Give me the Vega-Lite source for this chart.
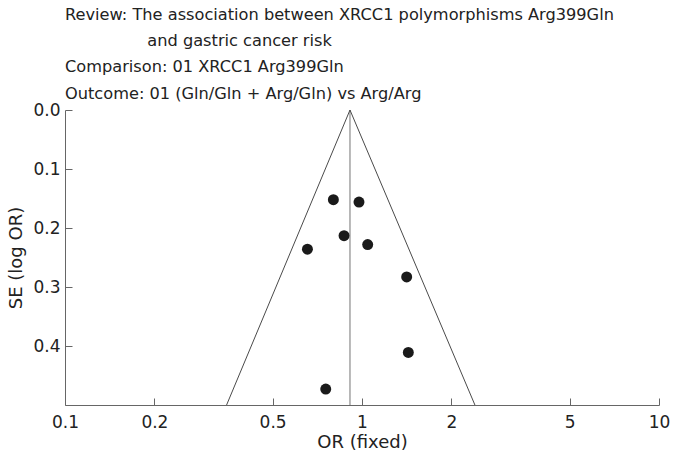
{
  "$schema": "https://vega.github.io/schema/vega-lite/v6.json",
  "width": 594,
  "height": 295,
  "autosize": {"type": "none"},
  "padding": {"left": 65, "top": 110, "right": 14, "bottom": 56},
  "background": "white",
  "config": {
    "view": {"stroke": null},
    "font": "DejaVu Sans"
  },
  "title": {
    "text": [
      "Review: The association between XRCC1 polymorphisms Arg399Gln",
      "\u200b\u00a0\u00a0\u00a0\u00a0\u00a0\u00a0\u00a0\u00a0\u00a0\u00a0\u00a0\u00a0\u00a0\u00a0\u00a0\u00a0and gastric cancer risk",
      "Comparison: 01 XRCC1 Arg399Gln",
      "Outcome: 01 (Gln/Gln + Arg/Gln) vs Arg/Arg"
    ],
    "anchor": "start",
    "frame": "group",
    "font": "DejaVu Sans",
    "fontSize": 16.2,
    "fontWeight": "normal",
    "color": "#222222",
    "lineHeight": 26.3,
    "offset": -1
  },
  "datasets": {
    "studies": [
      {"or": 0.801, "se": 0.152},
      {"or": 0.977, "se": 0.156},
      {"or": 0.870, "se": 0.213},
      {"or": 1.045, "se": 0.228},
      {"or": 0.655, "se": 0.236},
      {"or": 1.414, "se": 0.283},
      {"or": 1.432, "se": 0.411},
      {"or": 0.755, "se": 0.473}
    ],
    "funnel": [
      {"or": 0.35, "se": 0.5, "k": 1},
      {"or": 0.911, "se": 0.0, "k": 2},
      {"or": 2.40, "se": 0.5, "k": 3}
    ],
    "pooled": [
      {"or": 0.911, "se0": 0.0, "se1": 0.5}
    ]
  },
  "layer": [
    {
      "data": {"name": "pooled"},
      "mark": {"type": "rule", "color": "#8a8a8a", "strokeWidth": 1.2},
      "encoding": {
        "x": {"field": "or", "type": "quantitative", "scale": {"type": "log", "domain": [0.1, 10]}},
        "y": {"field": "se0", "type": "quantitative", "scale": {"domain": [0, 0.5], "reverse": true}},
        "y2": {"field": "se1"}
      }
    },
    {
      "data": {"name": "funnel"},
      "mark": {"type": "line", "color": "#4a4a4a", "strokeWidth": 1},
      "encoding": {
        "x": {"field": "or", "type": "quantitative"},
        "y": {"field": "se", "type": "quantitative"},
        "order": {"field": "k"}
      }
    },
    {
      "data": {"name": "studies"},
      "mark": {"type": "point", "filled": true, "color": "#1a1a1a", "opacity": 1, "size": 120},
      "encoding": {
        "x": {
          "field": "or",
          "type": "quantitative",
          "scale": {"type": "log", "domain": [0.1, 10]},
          "axis": {
            "title": "OR (fixed)",
            "values": [0.1, 0.2, 0.5, 1, 2, 5, 10],
            "format": "~g",
            "grid": false,
            "tickSize": -7,
            "labelPadding": 16,
            "labelFont": "DejaVu Sans",
            "labelFontSize": 17,
            "labelColor": "#222222",
            "titleFont": "DejaVu Sans",
            "titleFontSize": 18,
            "titleFontWeight": "normal",
            "titleColor": "#222222",
            "titlePadding": 3,
            "domainColor": "#666666",
            "tickColor": "#666666",
            "labelFlush": false
          }
        },
        "y": {
          "field": "se",
          "type": "quantitative",
          "scale": {"domain": [0, 0.5], "reverse": true},
          "axis": {
            "title": "SE (log OR)",
            "values": [0, 0.1, 0.2, 0.3, 0.4],
            "format": ".1f",
            "grid": false,
            "tickSize": -7,
            "labelPadding": 12,
            "labelFont": "DejaVu Sans",
            "labelFontSize": 17,
            "labelColor": "#222222",
            "titleFont": "DejaVu Sans",
            "titleFontSize": 18,
            "titleFontWeight": "normal",
            "titleColor": "#222222",
            "titlePadding": 7,
            "domainColor": "#666666",
            "tickColor": "#666666",
            "labelFlush": false
          }
        }
      }
    }
  ]
}
